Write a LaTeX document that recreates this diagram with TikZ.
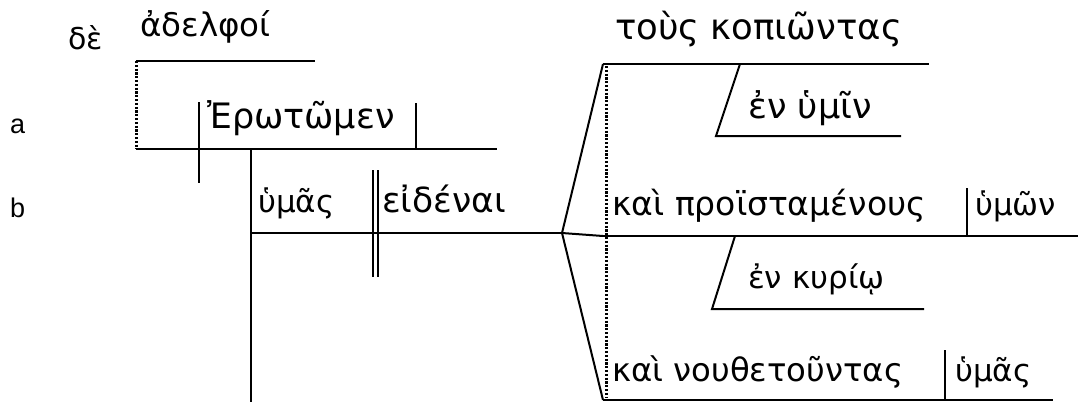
\documentclass[tikz,border=0pt]{standalone}
\usepackage{fontspec}
\setmainfont{DejaVu Sans}
\newfontfamily\labfont{Liberation Sans}
\newcommand{\fsz}[1]{\fontsize{#1}{#1}\selectfont}
\begin{document}
\begin{tikzpicture}[x=1pt,y=-1pt,
  line/.style={line width=2pt},
  dotline/.style={line width=3pt, dash pattern=on 2.2pt off 1.6pt},
  gk/.style={anchor=base west, inner sep=0pt},
  lab/.style={anchor=base west, inner sep=0pt, font=\labfont\fsz{27}}]
\useasboundingbox (0,0) rectangle (1078,402);
% labels
\node[lab] (la) at (10,133) {a};
\node[lab] (lb) at (10,217) {b};
% texts
\node[gk, font=\fsz{30}] (de) at (68,49) {δὲ};
\node[gk, font=\fsz{32.5}] (adel) at (140,36) {ἀδελφοί};
\node[gk, font=\fsz{35}] (erot) at (207,128) {Ἐρωτῶμεν};
\node[gk, font=\fsz{31}] (hymas) at (258,212) {ὑμᾶς};
\node[gk, font=\fsz{34.5}] (eid) at (382,212) {εἰδέναι};
\node[gk, font=\fsz{35.5}] (tous) at (615,39) {τοὺς κοπιῶντας};
\node[gk, font=\fsz{35}] (enhym) at (748,118) {ἐν ὑμῖν};
\node[gk, font=\fsz{33}] (kaipro) at (612,215) {καὶ προϊσταμένους};
\node[gk, font=\fsz{31}] (hymon) at (975,215) {ὑμῶν};
\node[gk, font=\fsz{31}] (enkyr) at (748,288) {ἐν κυρίῳ};
\node[gk, font=\fsz{32.3}] (kainou) at (612,381) {καὶ νουθετοῦντας};
\node[gk, font=\fsz{31}] (hymas2) at (955,381) {ὑμᾶς};
% coordinates
\coordinate (vtopL) at (136,61);
\coordinate (vtopR) at (315,61);
\coordinate (baseL) at (136,149);
\coordinate (baseR) at (497,149);
\coordinate (sv1) at (199,102);
\coordinate (sv2) at (199,183);
\coordinate (vo1) at (416,103);
\coordinate (vo2) at (416,149);
\coordinate (long1) at (251,149);
\coordinate (long2) at (251,402);
\coordinate (bL) at (251,233);
\coordinate (apex) at (562,233);
\coordinate (dbA1) at (373,170);
\coordinate (dbA2) at (373,277);
\coordinate (dbB1) at (378,170);
\coordinate (dbB2) at (378,277);
\coordinate (ftop) at (603,64);
\coordinate (fmid) at (603,236);
\coordinate (fbot) at (603,400);
\coordinate (ttopR) at (929,64);
\coordinate (midR) at (1078,236);
\coordinate (botR) at (1053,400);
\coordinate (dotT) at (606,66);
\coordinate (dotB) at (606,398);
\coordinate (m1a) at (740,64);
\coordinate (m1b) at (716,136);
\coordinate (m1c) at (901,136);
\coordinate (m2a) at (735,236);
\coordinate (m2b) at (712,309);
\coordinate (m2c) at (924,309);
\coordinate (d1a) at (967,188);
\coordinate (d1b) at (967,236);
\coordinate (d2a) at (945,350);
\coordinate (d2b) at (945,400);
% drawing
\draw[line] (vtopL) -- (vtopR);
\draw[dotline] (vtopL) -- (baseL);
\draw[line] (baseL) -- (baseR);
\draw[line] (sv1) -- (sv2);
\draw[line] (vo1) -- (vo2);
\draw[line] (long1) -- (long2);
\draw[line] (bL) -- (apex);
\draw[line, line width=1.5pt] (dbA1) -- (dbA2);
\draw[line, line width=1.5pt] (dbB1) -- (dbB2);
\draw[line] (ftop) -- (apex) -- (fbot);
\draw[line] (apex) -- (fmid);
\draw[line] (ftop) -- (ttopR);
\draw[line] (fmid) -- (midR);
\draw[line] (fbot) -- (botR);
\draw[dotline] (dotT) -- (dotB);
\draw[line] (m1a) -- (m1b) -- (m1c);
\draw[line] (m2a) -- (m2b) -- (m2c);
\draw[line] (d1a) -- (d1b);
\draw[line] (d2a) -- (d2b);
\end{tikzpicture}
\end{document}
